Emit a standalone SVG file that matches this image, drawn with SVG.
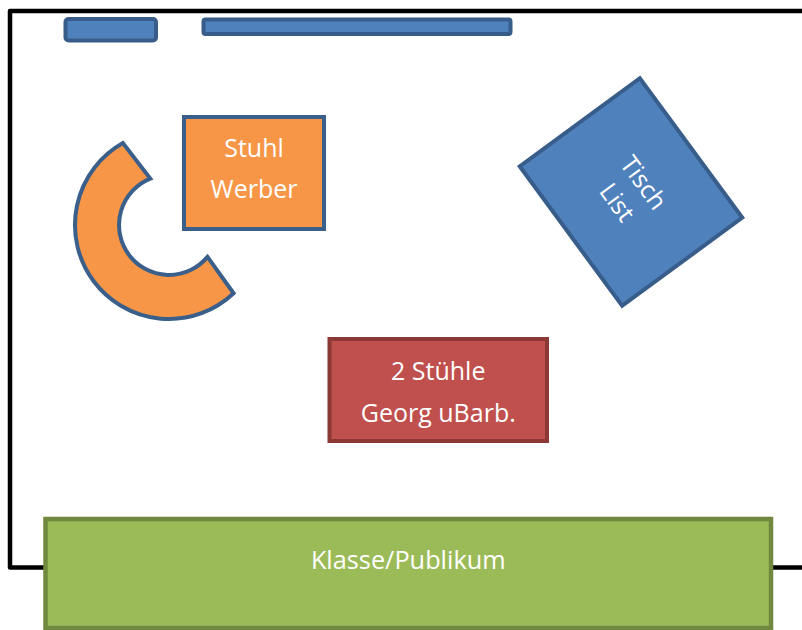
<svg xmlns="http://www.w3.org/2000/svg" width="802" height="630" viewBox="0 0 802 630">
<style>
.lbl{font-family:"Open Sans","Liberation Sans",sans-serif;font-size:25px;fill:#ffffff;text-anchor:middle}
.blue{fill:#4f81bd;stroke:#385d8a;stroke-width:4}
.orange{fill:#f79646;stroke:#3a5f8b;stroke-width:4}
.red{fill:#c0504d;stroke:#8c3836;stroke-width:4}
.green{fill:#9bbb59;stroke:#71893f;stroke-width:4.5}
</style>
<rect width="802" height="630" fill="#ffffff"/>
<g id="room">
<path d="M802,11 L10,11 L10,567.5 L802,567.5" fill="none" stroke="#000000" stroke-width="4.5" stroke-linejoin="round"/>
</g>
<g id="board-small"><rect class="blue" x="65.5" y="19" width="90.5" height="21.5" rx="3"/></g>
<g id="board-long"><rect class="blue" x="203.5" y="19.5" width="307" height="14.5" rx="2"/></g>
<g id="arc-chairs">
<path class="orange" stroke-linejoin="miter" d="M122.9,143.1 A94,94 0 1 0 233.6,293.3 L207.5,256.9 A50,50 0 1 1 150.3,178.6 Z"/>
</g>
<g id="stuhl-werber">
<rect class="orange" x="184" y="117" width="140" height="112"/>
<text class="lbl" x="254" y="157.3">Stuhl</text>
<text class="lbl" x="254" y="198.3">Werber</text>
</g>
<g id="tisch-list" transform="translate(631,192) rotate(53.7)">
<rect class="blue" x="-86.5" y="-74.5" width="173" height="149"/>
<text class="lbl" x="0" y="-7">Tisch</text>
<text class="lbl" x="0" y="26">List</text>
</g>
<g id="stuehle-georg">
<rect class="red" x="329.5" y="339" width="217.5" height="102"/>
<text class="lbl" x="438.25" y="380">2 Stühle</text>
<text class="lbl" x="438.25" y="421.7">Georg uBarb.</text>
</g>
<g id="klasse">
<rect class="green" x="45.5" y="519" width="725.5" height="109"/>
<text class="lbl" x="408.25" y="569.3" style="font-size:25.3px">Klasse/Publikum</text>
</g>
<g id="connectors"/>
</svg>
